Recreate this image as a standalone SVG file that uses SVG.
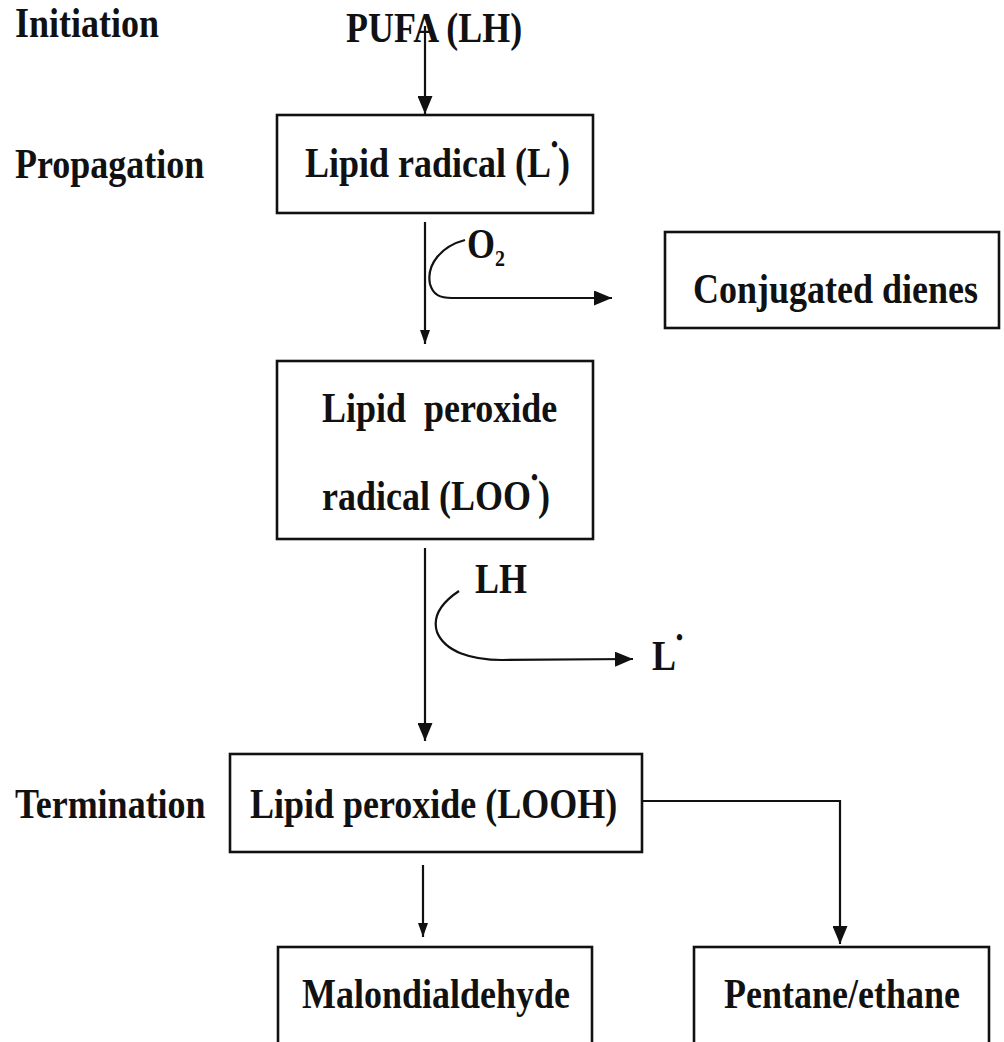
<svg xmlns="http://www.w3.org/2000/svg" width="1004" height="1042" viewBox="0 0 1004 1042">
<style>
  text { font-family: "Liberation Serif", "Times New Roman", serif; font-weight: bold; font-size: 36px; fill: #111; }
  .dot { font-size: 20px; }
  .box { fill: none; stroke: #111; stroke-width: 2.6; }
  .conn { fill: none; stroke: #111; stroke-width: 2.2; }
</style>
<defs>
  <marker id="ah" markerUnits="userSpaceOnUse" markerWidth="18" markerHeight="15" refX="18" refY="7.5" orient="auto">
    <path d="M0,0 L18,7.5 L0,15 z" fill="#111"/>
  </marker>
  <marker id="ahs" markerUnits="userSpaceOnUse" markerWidth="14" markerHeight="10" refX="14" refY="5" orient="auto">
    <path d="M0,0 L14,5 L0,10 z" fill="#111"/>
  </marker>
</defs>
<rect width="1004" height="1042" fill="#fff"/>

<g id="stage-labels">
  <text transform="translate(15,37) scale(1,1.15)">Initiation</text>
  <text transform="translate(15,178) scale(1,1.15)">Propagation</text>
  <text transform="translate(15,818) scale(1,1.15)">Termination</text>
</g>

<g id="connectors">
  <line class="conn" x1="425" y1="26" x2="425" y2="114" marker-end="url(#ah)"/>
  <line class="conn" x1="425" y1="222" x2="425" y2="344" marker-end="url(#ahs)"/>
  <path class="conn" d="M465 240 C442 246 426 264 430 284 C433 295 440 298 452 298 L612 298" marker-end="url(#ah)"/>
  <line class="conn" x1="425" y1="548" x2="425" y2="741" marker-end="url(#ah)"/>
  <path class="conn" d="M459 591 C441 603 432 616 437 632 C445 652 472 660 502 660 L633 659" marker-end="url(#ah)"/>
  <line class="conn" x1="423" y1="865" x2="423" y2="937" marker-end="url(#ahs)"/>
  <path class="conn" d="M642 801 L840 801 L840 944" marker-end="url(#ah)"/>
</g>

<g id="pufa">
  <text transform="translate(346,42) scale(1,1.15)">PUFA (LH)</text>
</g>

<g id="lipid-radical">
  <rect class="box" x="277" y="115" width="316" height="98"/>
  <text transform="translate(305,177) scale(1,1.15)">Lipid radical (L<tspan class="dot" dy="-22">•</tspan><tspan dy="22">)</tspan></text>
</g>

<g id="o2-label">
  <text transform="translate(467,258) scale(1,1.15)">O<tspan font-size="20" dy="7">2</tspan></text>
</g>

<g id="conjugated-dienes">
  <rect class="box" x="665" y="232" width="334" height="96"/>
  <text transform="translate(693,303) scale(1,1.15)">Conjugated dienes</text>
</g>

<g id="lipid-peroxide-radical">
  <rect class="box" x="277" y="361" width="316" height="178"/>
  <text transform="translate(322,422) scale(1,1.15)" xml:space="preserve">Lipid  peroxide</text>
  <text transform="translate(322,510) scale(1,1.15)">radical (LOO<tspan class="dot" dy="-22">•</tspan><tspan dy="22">)</tspan></text>
</g>

<g id="lh-label">
  <text transform="translate(475,593) scale(1,1.15)">LH</text>
</g>

<g id="l-radical-label">
  <text transform="translate(652,670) scale(1,1.15)">L<tspan class="dot" dy="-22">•</tspan></text>
</g>

<g id="lipid-peroxide">
  <rect class="box" x="230" y="754" width="412" height="98"/>
  <text transform="translate(250,818) scale(1,1.15)">Lipid peroxide (LOOH)</text>
</g>

<g id="malondialdehyde">
  <rect class="box" x="278" y="947" width="314" height="120"/>
  <text transform="translate(302,1008) scale(1,1.15)">Malondialdehyde</text>
</g>

<g id="pentane-ethane">
  <rect class="box" x="694" y="947" width="295" height="120"/>
  <text transform="translate(724,1008) scale(1,1.15)">Pentane/ethane</text>
</g>
</svg>
